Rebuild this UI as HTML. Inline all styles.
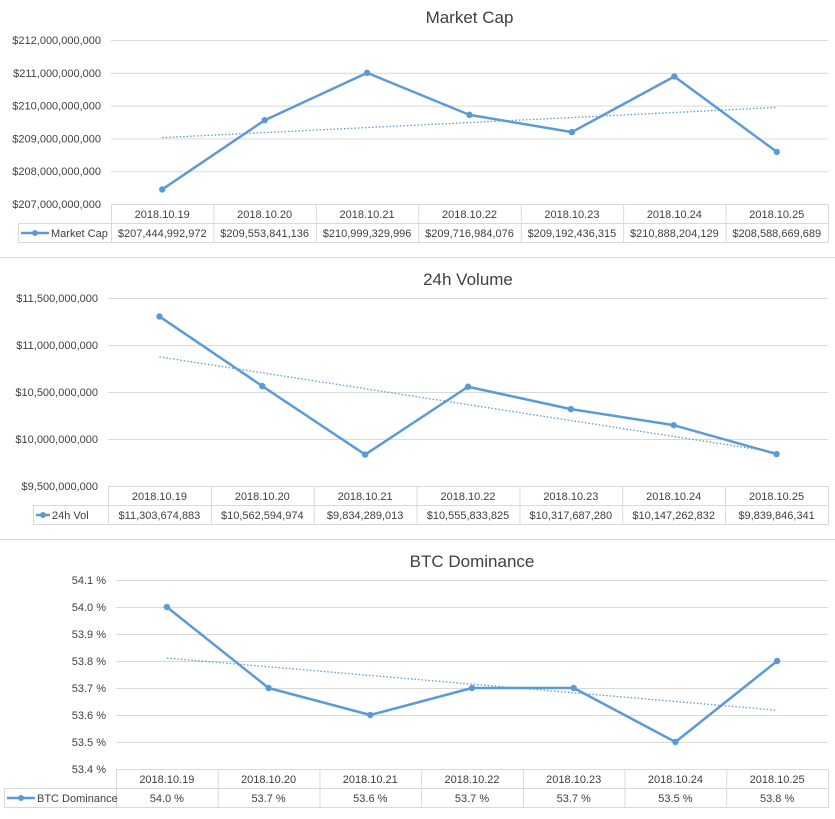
<!DOCTYPE html>
<html><head><meta charset="utf-8"><style>
body{margin:0;background:#fff;width:835px;height:819px;overflow:hidden;font-family:"Liberation Sans",sans-serif}
svg{display:block}
</style></head><body>
<svg id="s" width="835" height="819" xmlns="http://www.w3.org/2000/svg">
<line x1="0" y1="257.5" x2="835" y2="257.5" stroke="#d9d9d9"/>
<line x1="0" y1="539.5" x2="835" y2="539.5" stroke="#d9d9d9"/>
</svg>
<script>
const dates=["2018.10.19","2018.10.20","2018.10.21","2018.10.22","2018.10.23","2018.10.24","2018.10.25"];
const mcapValues=[207444992972,209553841136,210999329996,209716984076,209192436315,210888204129,208588669689];
const mcapTicks=[207e9,208e9,209e9,210e9,211e9,212e9];
const volValues=[11303674883,10562594974,9834289013,10555833825,10317687280,10147262832,9839846341];
const volTicks=[9.5e9,10e9,10.5e9,11e9,11.5e9];
const domValues=[54.0,53.7,53.6,53.7,53.7,53.5,53.8];
const domTicks=[53.4,53.5,53.6,53.7,53.8,53.9,54.0,54.1];
const NS="http://www.w3.org/2000/svg";
const svg=document.getElementById('s');
function mk(t,a,p){const e=document.createElementNS(NS,t);for(const k in a)e.setAttribute(k,a[k]);(p||svg).appendChild(e);return e;}
const money=v=>'$'+Math.round(v).toLocaleString('en-US');
const pct=v=>v.toFixed(1)+' %';
function chart(o){
  const g=mk('g',{});
  
  
  const t=mk('text',{x:(o.l+o.r)/2,y:o.ty,'text-anchor':'middle','font-size':17,fill:'#404040'},g);t.textContent=o.title;
  
  
  const lo=o.ticks[0],hi=o.ticks[o.ticks.length-1];
  const y=v=>o.bot-(v-lo)/(hi-lo)*(o.bot-o.top);
  const cw=(o.r-o.l)/o.vals.length;
  const x=i=>o.l+cw*(i+0.5);
  o.ticks.forEach(tv=>{
    if(tv!==lo){const gl=mk('line',{x1:o.l,x2:o.r,y1:y(tv)+.5,y2:y(tv)+.5,stroke:'#d9d9d9'},g);
    
    }
    const tl=mk('text',{x:o.l-10,y:y(tv)+4,'text-anchor':'end','font-size':11,fill:'#404040'},g);tl.textContent=o.fmt(tv,true);
    
    
  });
  // trendline
  const n=o.vals.length;let sx=0,sy=0,sxy=0,sxx=0;
  o.vals.forEach((v,i)=>{sx+=i;sy+=v;sxy+=i*v;sxx+=i*i;});
  const b=(n*sxy-sx*sy)/(n*sxx-sx*sx),a=(sy-b*sx)/n;
  const tr=mk('line',{x1:x(0),y1:y(a),x2:x(n-1),y2:y(a+b*(n-1)),stroke:'#5b9bd5','stroke-width':1.3,'stroke-dasharray':'1.5,2'},g);
  
  
  const ln=mk('polyline',{points:o.vals.map((v,i)=>x(i)+','+y(v)).join(' '),fill:'none',stroke:'#5b9bd5','stroke-width':2.5,'stroke-linejoin':'round'},g);
  
  
  o.vals.forEach((v,i)=>{const c=mk('circle',{cx:x(i),cy:y(v),r:3.2,fill:'#5b9bd5'},g);
    
    });
  // table
  const rh=19,t0=o.bot;
  const tb=mk('g',{stroke:'#d9d9d9',fill:'none'},g);
  
  
  mk('rect',{x:o.l+.5,y:t0+.5,width:o.r-o.l,height:rh*2},tb);
  mk('rect',{x:o.ll+.5,y:t0+rh+.5,width:o.l-o.ll,height:rh},tb);
  mk('line',{x1:o.l,x2:o.r,y1:t0+rh+.5,y2:t0+rh+.5},tb);
  for(let i=1;i<n;i++)mk('line',{x1:o.l+cw*i+.5,x2:o.l+cw*i+.5,y1:t0,y2:t0+2*rh},tb);
  dates.forEach((d,i)=>{const e=mk('text',{x:x(i),y:t0+14,'text-anchor':'middle','font-size':11,fill:'#404040'},g);e.textContent=d;
    
    
    const f=mk('text',{x:x(i),y:t0+rh+14,'text-anchor':'middle','font-size':11,fill:'#404040'},g);f.textContent=o.fmt(o.vals[i]);
    
    });
  mk('line',{x1:o.ll+3,x2:o.ll+3+o.kw,y1:t0+rh*1.5+.5,y2:t0+rh*1.5+.5,stroke:'#5b9bd5','stroke-width':2.5},g);
  mk('circle',{cx:o.ll+3+o.kw/2,cy:t0+rh*1.5+.5,r:3,fill:'#5b9bd5'},g);
  const lg=mk('text',{x:o.ll+5+o.kw,y:t0+rh+14,'font-size':11,fill:'#404040'},g);lg.textContent=o.legend;
  
  
}
chart({name:'market-cap',title:'Market Cap',ty:23,top:40,bot:204,l:111,r:828,ll:18,kw:28,vals:mcapValues,ticks:mcapTicks,fmt:money,legend:'Market Cap'});
chart({name:'volume',title:'24h Volume',ty:285,top:298,bot:486,l:108,r:828,ll:33,kw:14,vals:volValues,ticks:volTicks,fmt:money,legend:'24h Vol'});
chart({name:'btc-dominance',title:'BTC Dominance',ty:567,top:580,bot:769,l:116,r:828,ll:4,kw:28,vals:domValues,ticks:domTicks,fmt:pct,legend:'BTC Dominance'});
</script>
</body></html>
